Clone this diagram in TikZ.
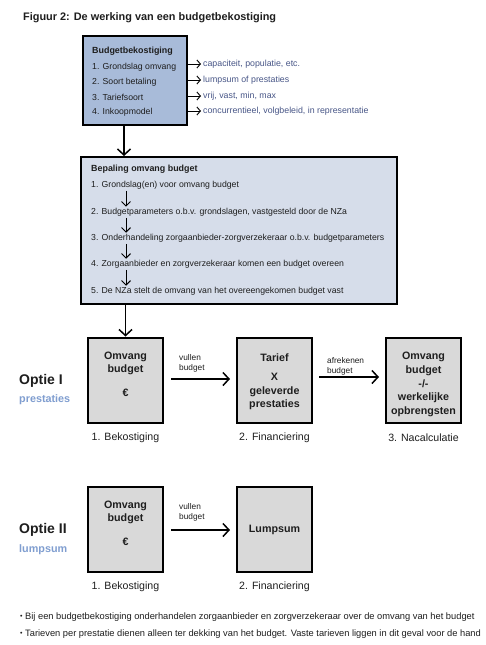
\documentclass[tikz,border=0pt]{standalone}
\usepackage{fontspec}
\setmainfont{Liberation Sans}
\usetikzlibrary{arrows.meta}
\definecolor{boxblue}{RGB}{168,187,217}
\definecolor{boxlight}{RGB}{214,221,234}
\definecolor{boxgrey}{RGB}{217,217,217}
\definecolor{sidetxt}{RGB}{72,86,135}
\definecolor{subtxt}{RGB}{128,158,208}
\definecolor{maintxt}{RGB}{30,30,30}
\begin{document}
\begin{tikzpicture}[x=1pt,y=-1pt,
  txt/.style={inner sep=0pt, anchor=west, text=maintxt},
  bigbox/.style={draw=black, line width=2pt, inner sep=0pt},
  optbox/.style={draw=black, line width=2pt, fill=boxgrey, minimum width=75pt, minimum height=85pt, inner sep=0pt},
  boxtxt/.style={inner sep=0pt, text=maintxt, font=\fontsize{10.7}{13}\selectfont\bfseries, align=center},
  mainarrow/.style={line width=1.5pt, -{Straight Barb[length=6pt, width=13pt, line width=1.5pt]}},
  smallarrow/.style={line width=1pt, -{Straight Barb[length=4.5pt, width=9pt, line width=1pt]}},
  sidearrow/.style={line width=0.9pt, -{Straight Barb[length=3.5pt, width=8pt, line width=0.9pt]}},
  sidet/.style={inner sep=0pt, anchor=west, text=sidetxt, font=\fontsize{8.8}{10}\selectfont},
  lbl/.style={inner sep=0pt, text=maintxt, font=\fontsize{10.6}{12}\selectfont},
  arlbl/.style={inner sep=0pt, anchor=west, text=maintxt, align=left, font=\fontsize{8.3}{10.5}\selectfont},
  notetxt/.style={inner sep=0pt, anchor=west, text=maintxt, font=\fontsize{9.3}{11}\selectfont},
]
\useasboundingbox (0,0) rectangle (486,645);
\fill[white] (0,0) rectangle (486,645);

% title
\node[txt, font=\fontsize{10.9}{12}\selectfont\bfseries] (title) at (23,18) {Figuur 2: De werking van een budgetbekostiging};

% box 1
\node[bigbox, fill=boxblue, minimum width=104pt, minimum height=89pt] (box1) at (135,80.5) {};
\node[txt, font=\fontsize{8.9}{10}\selectfont\bfseries] (b1t) at (92,51) {Budgetbekostiging};
\node[txt, font=\fontsize{8.7}{10}\selectfont] (b1a) at (92,67) {1. Grondslag omvang};
\node[txt, font=\fontsize{8.7}{10}\selectfont] (b1b) at (92,82) {2. Soort betaling};
\node[txt, font=\fontsize{8.7}{10}\selectfont] (b1c) at (92,97.5) {3. Tariefsoort};
\node[txt, font=\fontsize{8.7}{10}\selectfont] (b1d) at (92,112.5) {4. Inkoopmodel};

\node[sidet] (s1) at (203,64) {capaciteit, populatie, etc.};
\node[sidet] (s2) at (203,80) {lumpsum of prestaties};
\node[sidet] (s3) at (203,96) {vrij, vast, min, max};
\node[sidet] (s4) at (203,111) {concurrentieel, volgbeleid, in representatie};
\draw[sidearrow] (box1.east |- s1.west) -- ([xshift=-2pt]s1.west);
\draw[sidearrow] (box1.east |- s2.west) -- ([xshift=-2pt]s2.west);
\draw[sidearrow] (box1.east |- s3.west) -- ([xshift=-2pt]s3.west);
\draw[sidearrow] (box1.east |- s4.west) -- ([xshift=-2pt]s4.west);

% box 2
\node[bigbox, fill=boxlight, minimum width=316pt, minimum height=147pt] (box2) at (239,230.5) {};
\coordinate (ax) at (124,0);
\coordinate (bx) at (126,0);
\draw[mainarrow] (box1.south -| ax) -- (box2.north -| ax);

\node[txt, font=\fontsize{8.9}{10}\selectfont\bfseries] (b2t) at (91,169) {Bepaling omvang budget};
\node[txt, font=\fontsize{8.7}{10}\selectfont] (b2a) at (91,185) {1. Grondslag(en) voor omvang budget};
\node[txt, font=\fontsize{8.7}{10}\selectfont] (b2b) at (91,212) {2. Budgetparameters o.b.v. grondslagen, vastgesteld door de NZa};
\node[txt, font=\fontsize{8.7}{10}\selectfont] (b2c) at (91,238) {3. Onderhandeling zorgaanbieder-zorgverzekeraar o.b.v. budgetparameters};
\node[txt, font=\fontsize{8.7}{10}\selectfont] (b2d) at (91,264) {4. Zorgaanbieder en zorgverzekeraar komen een budget overeen};
\node[txt, font=\fontsize{8.7}{10}\selectfont] (b2e) at (91,291) {5. De NZa stelt de omvang van het overeengekomen budget vast};
\draw[smallarrow] ([yshift=-1.5pt]b2a.south -| bx) -- ([yshift=1pt]b2b.north -| bx);
\draw[smallarrow] ([yshift=-1.5pt]b2b.south -| bx) -- ([yshift=1pt]b2c.north -| bx);
\draw[smallarrow] ([yshift=-1.5pt]b2c.south -| bx) -- ([yshift=1pt]b2d.north -| bx);
\draw[smallarrow] ([yshift=-1.5pt]b2d.south -| bx) -- ([yshift=1pt]b2e.north -| bx);

% option I
\node[optbox] (oa) at (125.5,380) {};
\node[optbox] (ob) at (274.5,380) {};
\node[optbox] (oc) at (423.5,380) {};
\draw[mainarrow] (oa.north |- box2.south) -- (oa.north);

\node[boxtxt] (oat) at (125.5,363.5) {Omvang\\budget};
\node[boxtxt] (oae) at (125.5,393) {€};
\node[boxtxt] (obt) at (274.5,358) {Tarief};
\node[boxtxt] (obx) at (274.5,377) {X};
\node[boxtxt] (obg) at (274.5,398) {geleverde\\prestaties};
\node[boxtxt, font=\fontsize{10.7}{13.7}\selectfont\bfseries] (oct) at (423.5,384.5) {Omvang\\budget\\-/-\\werkelijke\\opbrengsten};

\draw[mainarrow, shorten <=7pt, shorten >=6pt] ([yshift=1pt]oa.east) -- ([yshift=1pt]ob.west);
\draw[mainarrow, shorten <=6pt, shorten >=6pt] ([yshift=3pt]ob.east) -- ([yshift=3pt]oc.west);
\node[arlbl] (v1) at (179,363.5) {vullen\\budget};
\node[arlbl] (af) at (327,366.5) {afrekenen\\budget};

\node[lbl] (la) at (125.5,438) {1. Bekostiging};
\node[lbl] (lb) at (274.5,438) {2. Financiering};
\node[lbl] (lc) at (423.5,438) {3. Nacalculatie};

\node[txt, font=\fontsize{14}{16}\selectfont\bfseries] (o1) at (19,381) {Optie I};
\node[txt, text=subtxt, font=\fontsize{10.8}{12}\selectfont\bfseries] (o1s) at (19,400) {prestaties};

% option II
\node[optbox] (pa) at (125.5,529) {};
\node[optbox] (pb) at (274.5,529) {};
\node[boxtxt] (pat) at (125.5,512) {Omvang\\budget};
\node[boxtxt] (pae) at (125.5,542) {€};
\node[boxtxt] (pbt) at (274.5,530) {Lumpsum};
\draw[mainarrow, shorten <=7pt, shorten >=6pt] ([yshift=-1pt]pa.east) -- ([yshift=-1pt]pb.west);
\node[arlbl] (v2) at (179,512.5) {vullen\\budget};
\node[lbl] (ma) at (125.5,587) {1. Bekostiging};
\node[lbl] (mb) at (274.5,587) {2. Financiering};

\node[txt, font=\fontsize{14}{16}\selectfont\bfseries] (o2) at (19,530) {Optie II};
\node[txt, text=subtxt, font=\fontsize{10.8}{12}\selectfont\bfseries] (o2s) at (19,550) {lumpsum};

% bullets
\node[notetxt] (n1) at (20,617) {\raisebox{0.1ex}{\scalebox{0.75}{•}} Bij een budgetbekostiging onderhandelen zorgaanbieder en zorgverzekeraar over de omvang van het budget};
\node[notetxt] (n2) at (20,634) {\raisebox{0.1ex}{\scalebox{0.75}{•}} Tarieven per prestatie dienen alleen ter dekking van het budget. Vaste tarieven liggen in dit geval voor de hand};
\end{tikzpicture}
\end{document}
